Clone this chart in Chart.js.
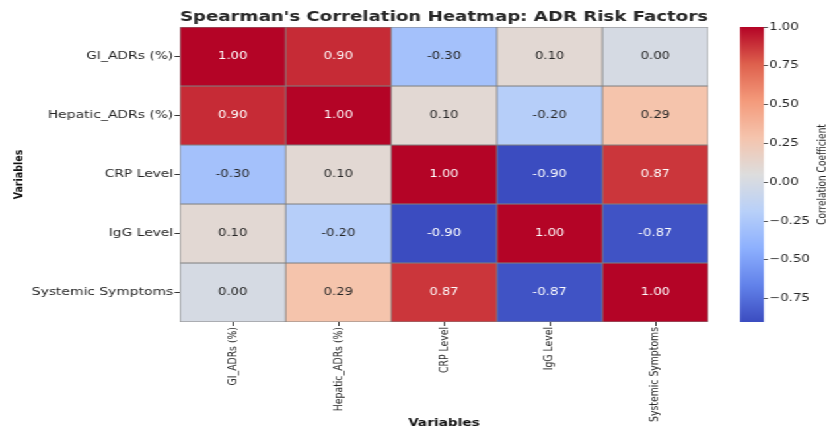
<!DOCTYPE html>
<html>
<head>
<meta charset="utf-8">
<script src="https://cdn.jsdelivr.net/npm/chart.js@4/dist/chart.umd.min.js"></script>
<style>
    html, body { margin: 0; padding: 0; background: #fff; overflow: hidden; }
    #stage {
        position: absolute; left: 0; top: 0;
        width: 626px; height: 430px;
        transform: scaleX(1.3211); transform-origin: 0 0;
    }
    #heatmap { position: absolute; left: 0; top: 0; }
    #colorbar { position: absolute; left: 550px; top: 0; }
</style>
</head>
<body>
<div id="stage">
    <canvas id="heatmap" width="550" height="430"></canvas>
    <canvas id="colorbar" width="76" height="430"></canvas>
</div>
<script>
const variables = ['GI_ADRs (%)', 'Hepatic_ADRs (%)', 'CRP Level', 'IgG Level', 'Systemic Symptoms'];

const giRow       = [1.00, 0.90, -0.30, 0.10, 0.00];
const hepaticRow  = [0.90, 1.00, 0.10, -0.20, 0.29];
const crpRow      = [-0.30, 0.10, 1.00, -0.90, 0.87];
const iggRow      = [0.10, -0.20, -0.90, 1.00, -0.87];
const systemicRow = [0.00, 0.29, 0.87, -0.87, 1.00];

const colorbarTicks = [-0.75, -0.50, -0.25, 0.00, 0.25, 0.50, 0.75, 1.00];
const vmin = -0.90;
const vmax = 1.00;

const matrix = [giRow, hepaticRow, crpRow, iggRow, systemicRow];

// coolwarm colormap control points
const coolwarm = [
    [0.000, 59, 76, 192],
    [0.125, 98, 130, 234],
    [0.250, 141, 176, 254],
    [0.375, 184, 208, 249],
    [0.500, 221, 221, 221],
    [0.625, 245, 196, 173],
    [0.750, 244, 154, 123],
    [0.875, 222, 96, 77],
    [1.000, 180, 4, 38]
];

function cmap(t) {
    t = Math.min(1, Math.max(0, t));
    for (let i = 1; i < coolwarm.length; i++) {
        const a = coolwarm[i - 1], b = coolwarm[i];
        if (t <= b[0]) {
            const f = (t - a[0]) / (b[0] - a[0]);
            return [1, 2, 3].map(k => Math.round(a[k] + (b[k] - a[k]) * f));
        }
    }
    return coolwarm[coolwarm.length - 1].slice(1);
}

function colorFor(v) {
    const c = cmap((v - vmin) / (vmax - vmin));
    return `rgb(${c[0]}, ${c[1]}, ${c[2]})`;
}

function textColorFor(v) {
    const lin = cmap((v - vmin) / (vmax - vmin)).map(x => {
        x /= 255;
        return x <= 0.03928 ? x / 12.92 : Math.pow((x + 0.055) / 1.055, 2.4);
    });
    const lum = 0.2126 * lin[0] + 0.7152 * lin[1] + 0.0722 * lin[2];
    return lum > 0.408 ? '#262626' : '#ffffff';
}

const FONT = "'DejaVu Sans', sans-serif";
const INK = '#262626';

const annotate = {
    id: 'annotate',
    afterDatasetsDraw(chart) {
        const ctx = chart.ctx;
        ctx.save();
        ctx.font = `10px ${FONT}`;
        ctx.textAlign = 'center';
        ctx.textBaseline = 'middle';
        chart.data.datasets.forEach((ds, r) => {
            chart.getDatasetMeta(r).data.forEach((bar, c) => {
                const v = matrix[r][c];
                ctx.fillStyle = textColorFor(v);
                ctx.fillText(v.toFixed(2), bar.x, (bar.y + bar.base) / 2);
            });
        });
        ctx.restore();
    }
};

new Chart(document.getElementById('heatmap'), {
    type: 'bar',
    data: {
        labels: variables,
        datasets: matrix.map((row, r) => ({
            label: variables[r],
            data: row.map(() => [r, r + 1]),
            backgroundColor: (ctx) => colorFor(matrix[ctx.datasetIndex][ctx.dataIndex]),
            borderColor: '#808080',
            borderWidth: 0.75,
            borderSkipped: false,
            barPercentage: 1,
            categoryPercentage: 1,
            grouped: false
        }))
    },
    options: {
        responsive: false,
        animation: false,
        devicePixelRatio: 1,
        layout: { padding: { top: 0, right: 14, bottom: 0, left: 0 } },
        plugins: {
            legend: { display: false },
            tooltip: { enabled: false },
            title: {
                display: true,
                fullSize: false,
                text: "Spearman's Correlation Heatmap: ADR Risk Factors",
                color: INK,
                font: { family: FONT, size: 14.5, weight: 'bold' },
                padding: { top: 9, bottom: 0.6 }
            }
        },
        scales: {
            x: {
                type: 'category',
                offset: true,
                grid: { display: true, drawOnChartArea: false, offset: false, tickLength: 4, tickColor: '#333' },
                border: { display: false },
                ticks: {
                    autoSkip: false, minRotation: 90, maxRotation: 90, padding: 1,
                    color: INK, font: { family: FONT, size: 9.3 }
                },
                title: {
                    display: true, text: 'Variables', color: '#111',
                    font: { family: FONT, size: 10.4, weight: 'bold' },
                    padding: { top: 0, bottom: 0 }
                },
                afterFit: (s) => { s.height = 108; }
            },
            y: {
                type: 'linear',
                min: 0,
                max: variables.length,
                reverse: true,
                grid: { display: true, drawOnChartArea: false, tickLength: 4, tickColor: '#333' },
                border: { display: false },
                afterBuildTicks: (s) => { s.ticks = variables.map((v, i) => ({ value: i + 0.5 })); },
                ticks: {
                    padding: 1, color: INK, font: { family: FONT, size: 10.5 },
                    callback: (value) => variables[Math.floor(value)]
                },
                title: {
                    display: true, text: 'Variables', color: '#111',
                    font: { family: FONT, size: 9.5, weight: 'bold' },
                    padding: { top: 9, bottom: 0 }
                },
                afterFit: (s) => { s.width = 136.2; }
            }
        }
    },
    plugins: [annotate]
});

const colorbarLabel = {
    id: 'colorbarLabel',
    afterDraw(chart) {
        const ctx = chart.ctx;
        const area = chart.chartArea;
        ctx.save();
        ctx.translate(chart.width - 3, (area.top + area.bottom) / 2);
        ctx.rotate(-Math.PI / 2);
        ctx.font = `9px ${FONT}`;
        ctx.fillStyle = INK;
        ctx.textAlign = 'center';
        ctx.textBaseline = 'middle';
        ctx.fillText('Correlation Coefficient', 0, 0);
        ctx.restore();
    }
};

new Chart(document.getElementById('colorbar'), {
    type: 'bar',
    data: {
        labels: [''],
        datasets: [{
            data: [[vmin, vmax]],
            backgroundColor: (ctx) => {
                const chart = ctx.chart;
                const ys = chart.scales.y;
                if (!chart.chartArea || !ys) return colorFor(0);
                const g = chart.ctx.createLinearGradient(0, ys.getPixelForValue(vmin), 0, ys.getPixelForValue(vmax));
                coolwarm.forEach(p => g.addColorStop(p[0], `rgb(${p[1]}, ${p[2]}, ${p[3]})`));
                return g;
            },
            borderWidth: 0,
            barPercentage: 1,
            categoryPercentage: 1
        }]
    },
    options: {
        responsive: false,
        animation: false,
        devicePixelRatio: 1,
        layout: { padding: { top: 27, right: 0, bottom: 108, left: 10.1 } },
        plugins: { legend: { display: false }, tooltip: { enabled: false } },
        scales: {
            x: { display: false },
            y: {
                type: 'linear',
                position: 'right',
                min: vmin,
                max: vmax,
                grid: { display: true, drawOnChartArea: false, tickLength: 3, tickColor: '#555' },
                border: { display: false },
                afterBuildTicks: (s) => { s.ticks = colorbarTicks.map(v => ({ value: v })); },
                ticks: {
                    padding: 1, color: INK, font: { family: FONT, size: 10 },
                    callback: (v) => (v < 0 ? '\u2212' : '') + Math.abs(v).toFixed(2)
                },
                afterFit: (s) => { s.width = 47.7; }
            }
        }
    },
    plugins: [colorbarLabel]
});
</script>
</body>
</html>
